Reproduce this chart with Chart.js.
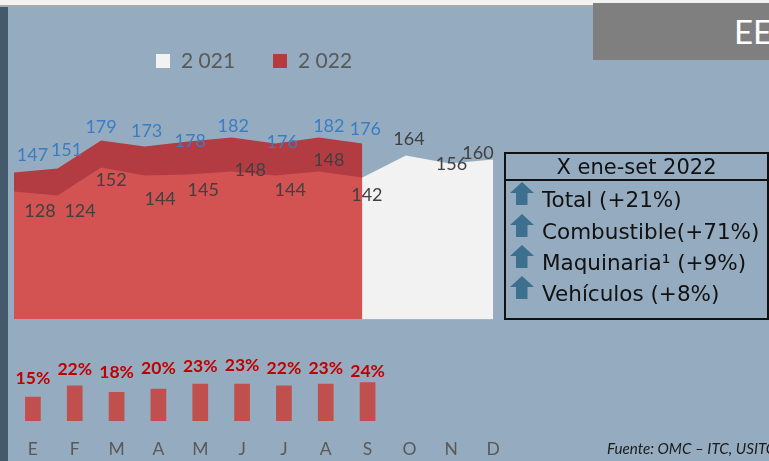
<!DOCTYPE html>
<html>
<head>
<meta charset="utf-8">
<script src="https://cdn.jsdelivr.net/npm/chart.js@4.4.1/dist/chart.umd.min.js"></script>
<style>
html,body{margin:0;padding:0;width:769px;height:461px;overflow:hidden;background:#95acc0;}
#wrap{position:relative;width:769px;height:461px;overflow:hidden;background:#95acc0;font-family:Lato,"Open Sans",sans-serif;}
#topstrip{position:absolute;left:0;top:0;width:769px;height:5px;background:#f2f2f2;border-bottom:2px solid #a9a9a9;}
#leftbar{position:absolute;left:0;top:7px;width:8px;height:454px;background:#44596b;}
#hdr{position:absolute;left:593px;top:3px;width:176px;height:57px;background:#7f7f7f;}
#hdr span{position:absolute;left:141px;top:10px;color:#fff;font:33px Lato,sans-serif;line-height:36px;white-space:nowrap;}
canvas{position:absolute;left:0;top:0;}
#box{position:absolute;left:504px;top:152px;width:265px;height:168px;box-sizing:border-box;border:2px solid #111;font-family:"DejaVu Sans",Verdana,sans-serif;color:#111;}
#boxTitle{position:absolute;left:0;top:0;width:261px;height:25px;line-height:26px;text-align:center;font-size:21px;}
#sep{position:absolute;left:0;top:25px;width:261px;height:2px;background:#111;}
.row{position:absolute;left:36px;font-size:21.5px;line-height:26px;white-space:nowrap;}
.arr{position:absolute;left:4px;width:24px;height:24px;}
#fuente{position:absolute;left:607px;top:439px;font:italic 15.2px Lato,sans-serif;color:#1a1a1a;white-space:nowrap;}
</style>
</head>
<body>
<div id="wrap">
<div id="topstrip"></div>
<div id="leftbar"></div>
<div id="hdr"><span>EE</span></div>
<canvas id="areaChart" width="769" height="461"></canvas>
<canvas id="barChart" width="769" height="483"></canvas>
<div id="box">
  <div id="boxTitle">X ene-set 2022</div>
  <div id="sep"></div>
  <svg class="arr" style="top:28px" viewBox="0 0 24 24"><polygon points="12,0 24,11 17.5,11 17.5,23 6,23 6,11 0,11" fill="#3d6f8e"/></svg>
  <div class="row" style="top:33px">Total (+21%)</div>
  <svg class="arr" style="top:59.5px" viewBox="0 0 24 24"><polygon points="12,0 24,11 17.5,11 17.5,23 6,23 6,11 0,11" fill="#3d6f8e"/></svg>
  <div class="row" style="top:64.5px">Combustible(+71%)</div>
  <svg class="arr" style="top:91px" viewBox="0 0 24 24"><polygon points="12,0 24,11 17.5,11 17.5,23 6,23 6,11 0,11" fill="#3d6f8e"/></svg>
  <div class="row" style="top:96px">Maquinaria¹ (+9%)</div>
  <svg class="arr" style="top:122px" viewBox="0 0 24 24"><polygon points="12,0 24,11 17.5,11 17.5,23 6,23 6,11 0,11" fill="#3d6f8e"/></svg>
  <div class="row" style="top:127px">Vehículos (+8%)</div>
</div>
<div id="fuente">Fuente: OMC – ITC, USITC</div>
</div>
<script>
// ---- data ----
const months = ['E','F','M','A','M','J','J','A','S','O','N','D'];
const seriesNames = ['2 021','2 022'];
const values2021 = [128,124,152,144,145,148,144,148,142,164,156,160];
const values2022 = [147,151,179,173,178,182,176,182,176];
const growthPct = [15,22,18,20,23,23,22,23,24];

// ---- label placement (style, not data) ----
const shift2021 = [[26,20],[22.5,16],[10,13],[15.5,23.5],[15,15.5],[18.5,-1],[15,15],[10,-11.5],[4.5,17.5],[3,-16.5],[2,0.5],[-15,-6]];
const shift2022 = [[18.5,-17.5],[9,-18.5],[0,-13.5],[2,-15.5],[2,0],[1.5,-11],[7,-1],[10,-11.5],[3,-14.5]];
const barLabelGap = [18,16,20,20,17,18,17,15,11];

const areaLabels = {
  id:'areaLabels',
  afterDatasetsDraw(chart){
    const ctx = chart.ctx;
    ctx.save();
    ctx.font = '18px Lato, sans-serif';
    ctx.textAlign = 'center';
    ctx.textBaseline = 'middle';
    chart.data.datasets.forEach((ds, i) => {
      const meta = chart.getDatasetMeta(i);
      const sh = i === 0 ? shift2021 : shift2022;
      ctx.fillStyle = ds.labelColor;
      meta.data.forEach((pt, j) => {
        if (ds.data[j] == null) return;
        ctx.fillText(String(ds.data[j]), pt.x + sh[j][0], pt.y + sh[j][1]);
      });
    });
    ctx.restore();
  },
  afterDraw(chart){
    const ctx = chart.ctx;
    ctx.save();
    ctx.font = '21px Lato, sans-serif';
    ctx.textBaseline = 'middle';
    ctx.textAlign = 'left';
    const starts = [156, 273];
    chart.data.datasets.forEach((ds, i) => {
      const x = starts[i];
      ctx.fillStyle = ds.legendColor;
      ctx.fillRect(x, 54, 14, 14);
      ctx.fillStyle = '#595959';
      ctx.fillText(ds.label, x + 25, 61);
    });
    ctx.restore();
  }
};

new Chart(document.getElementById('areaChart'), {
  type:'line',
  data:{
    labels: months,
    datasets:[
      {label: seriesNames[0], data: values2021, fill:'origin', backgroundColor:'#f2f2f2', borderWidth:0, pointRadius:0, tension:0, order:2, labelColor:'#404040', legendColor:'#f2f2f2'},
      {label: seriesNames[1], data: values2022, fill:'origin', backgroundColor:'rgba(194,0,0,0.66)', borderWidth:0, pointRadius:0, tension:0, order:1, labelColor:'#3a7dc2', legendColor:'#b53a3f'}
    ]
  },
  options:{
    responsive:false, animation:false,
    layout:{padding:{left:14, right:276, top:119.5, bottom:141.5}},
    plugins:{legend:{display:false}, tooltip:{enabled:false}},
    scales:{
      x:{display:false, offset:false},
      y:{display:false, min:0, max:200}
    }
  },
  plugins:[areaLabels]
});

const barLabels = {
  id:'barLabels',
  afterDatasetsDraw(chart){
    const ctx = chart.ctx;
    ctx.save();
    ctx.font = 'bold 17.5px Lato, sans-serif';
    ctx.textAlign = 'center';
    ctx.textBaseline = 'middle';
    ctx.fillStyle = '#c00000';
    const meta = chart.getDatasetMeta(0);
    meta.data.forEach((bar, j) => {
      ctx.fillText(growthPct[j] + '%', bar.x, bar.y - barLabelGap[j]);
    });
    ctx.restore();
  }
};

new Chart(document.getElementById('barChart'), {
  type:'bar',
  data:{
    labels: months,
    datasets:[{label:'Participación', data: growthPct, backgroundColor:'#c0504d', borderWidth:0, barPercentage:0.375, categoryPercentage:1}]
  },
  options:{
    responsive:false, animation:false,
    layout:{padding:{left:12, right:255, top:356.4, bottom:5}},
    plugins:{legend:{display:false}, tooltip:{enabled:false}},
    scales:{
      x:{offset:true, grid:{display:false, drawTicks:false}, border:{display:false},
         ticks:{color:'#595959', font:{family:'Lato', size:17.5}, padding:18, maxRotation:0, autoSkip:false}},
      y:{display:false, min:0, max:40}
    }
  },
  plugins:[barLabels]
});
</script>
</body>
</html>
